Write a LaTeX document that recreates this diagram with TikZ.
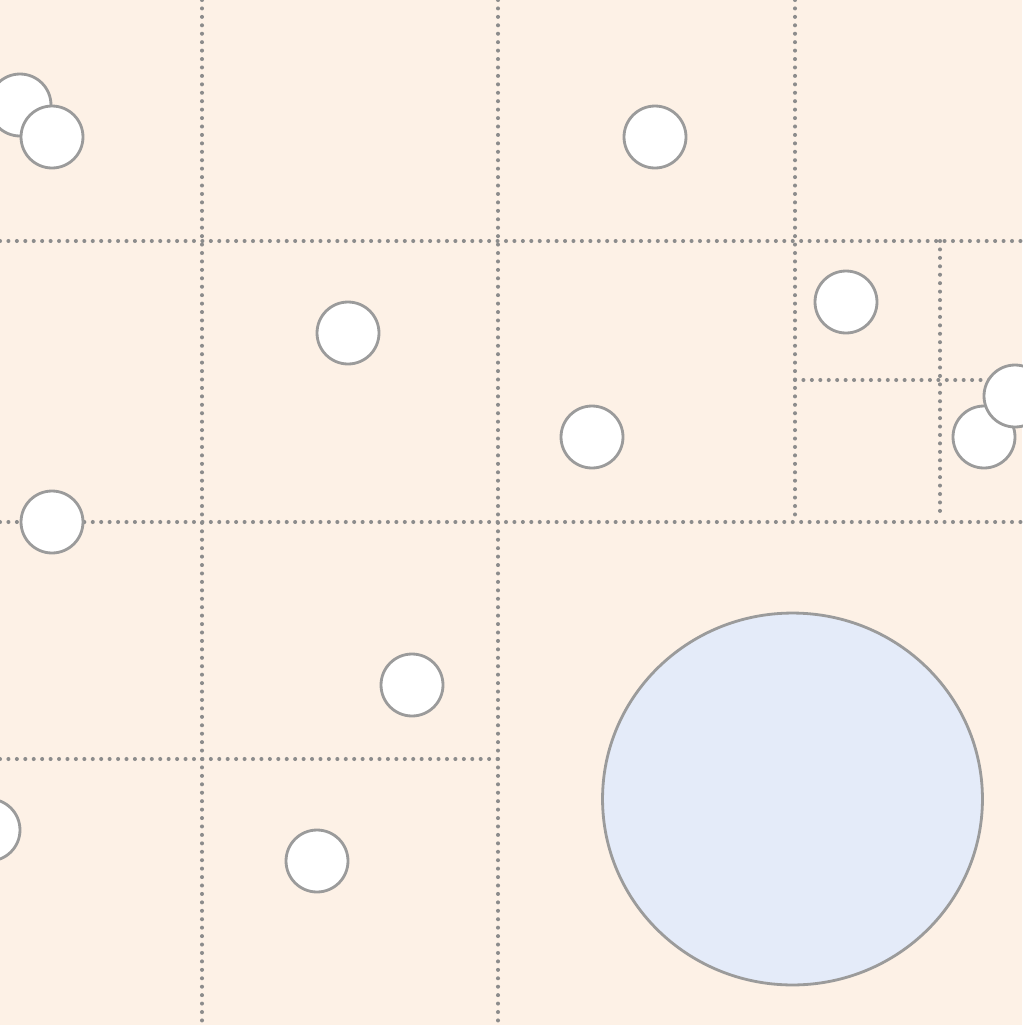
\documentclass[tikz,border=0pt]{standalone}
\usepackage{tikz}
\usetikzlibrary{positioning, calc, shapes.geometric}
\definecolor{bgpeach}{HTML}{FDF1E6}
\definecolor{edgegray}{HTML}{9B9B9B}
\definecolor{dotgray}{HTML}{8C8C8C}
\definecolor{bigblue}{HTML}{E4EBF9}

\begin{document}
\begin{tikzpicture}[x=0.02cm, y=-0.02cm,
  grid/.style={draw=dotgray, line width=2.3pt, line cap=round, dash pattern=on 0pt off 4.8pt},
  ball/.style={draw=edgegray, fill=white, circle, line width=1.6pt, minimum size=1.24cm, inner sep=0pt},
  bigball/.style={draw=edgegray, fill=bigblue, ellipse, line width=1.6pt, minimum width=7.6cm, minimum height=7.44cm, inner sep=0pt}]
% Background
\fill[bgpeach] (0,0) rectangle (1022,1025);
\useasboundingbox (0,0) rectangle (1022,1025);

% Partition lines
\draw[grid] (0,241) -- (1022,241);
\draw[grid] (0,522) -- (1022,522);
\draw[grid] (0,759) -- (498,759);
\draw[grid] (795,380) -- (1022,380);
\draw[grid] (202,0) -- (202,1025);
\draw[grid] (498,0) -- (498,1025);
\draw[grid] (795,0) -- (795,516);
\draw[grid] (940,241) -- (940,516);

% Small balls
\node[ball] (b1) at (20,105) {};
\node[ball] (b2) at (52,137) {};
\node[ball] (b3) at (655,137) {};
\node[ball] (b4) at (846,302) {};
\node[ball] (b5) at (348,333) {};
\node[ball] (b6) at (592,437) {};
\node[ball] (b7) at (984,437) {};
\node[ball] (b8) at (1015,396) {};
\node[ball] (b9) at (52,522) {};
\node[ball] (b10) at (412,685) {};
\node[ball] (b11) at (-11,830) {};
\node[ball] (b12) at (317,861) {};

% Big ball
\node[bigball] (big) at (792.5,799) {};
\end{tikzpicture}
\end{document}
